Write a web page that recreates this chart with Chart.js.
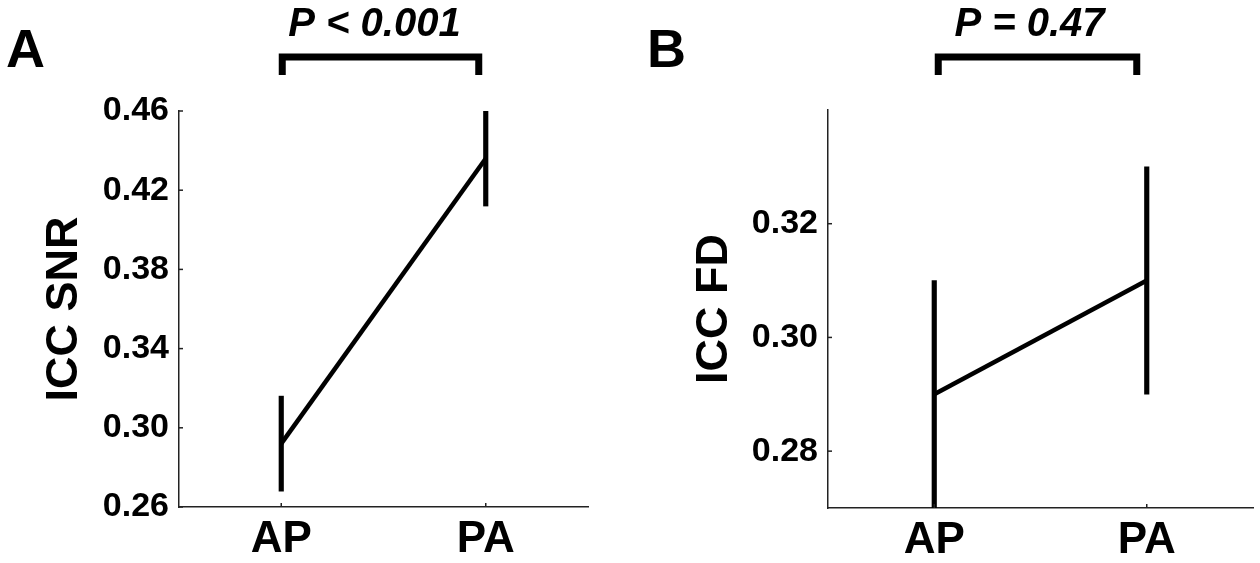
<!DOCTYPE html>
<html>
<head>
<meta charset="utf-8">
<script src="https://cdn.jsdelivr.net/npm/chart.js@4.4.1/dist/chart.umd.min.js"></script>
<style>
  body { margin: 0; background: #fff; }
  #wrap { position: relative; width: 1260px; height: 563px; }
  canvas { position: absolute; top: 0; }
</style>
</head>
<body>
<div id="wrap">
  <canvas id="chartA" width="630" height="563" style="left:0"></canvas>
  <canvas id="chartB" width="630" height="563" style="left:630px"></canvas>
</div>
<script>
const groups = ['AP', 'PA'];

// panel A: ICC SNR
const snrMean = [0.292, 0.436];
const snrLow = [0.268, 0.412];
const snrHigh = [0.316, 0.460];
const snrTicks = [0.26, 0.30, 0.34, 0.38, 0.42, 0.46];

// panel B: ICC FD
const fdMean = [0.290, 0.310];
const fdLow = [0.270, 0.290];
const fdHigh = [0.310, 0.330];
const fdTicks = [0.28, 0.30, 0.32];

const FONT = '"Liberation Sans", Arial, Helvetica, sans-serif';

// inward tick marks, panel letter, significance bracket and P text
const panelDecor = {
  id: 'panelDecor',
  afterDraw(chart, args, opts) {
    const ctx = chart.ctx;
    const x = chart.scales.x, y = chart.scales.y;
    const area = chart.chartArea;
    ctx.save();
    ctx.strokeStyle = '#222';
    ctx.lineWidth = 1.5;
    y.ticks.forEach((t, i) => {
      const py = y.getPixelForTick(i);
      ctx.beginPath();
      ctx.moveTo(area.left, py);
      ctx.lineTo(area.left + 4, py);
      ctx.stroke();
    });
    x.ticks.forEach((t, i) => {
      const px = x.getPixelForTick(i);
      ctx.beginPath();
      ctx.moveTo(px, area.bottom);
      ctx.lineTo(px, area.bottom - 4);
      ctx.stroke();
    });

    ctx.fillStyle = '#000';
    ctx.font = 'bold 54px ' + FONT;
    ctx.textAlign = 'left';
    ctx.textBaseline = 'alphabetic';
    ctx.fillText(opts.letter, opts.letterX, 67);

    const x1 = x.getPixelForValue(0) + opts.legs[0];
    const x2 = x.getPixelForValue(1) - opts.legs[1];
    ctx.strokeStyle = '#000';
    ctx.lineWidth = 7;
    ctx.lineJoin = 'miter';
    ctx.beginPath();
    ctx.moveTo(x1, 75);
    ctx.lineTo(x1, 57);
    ctx.lineTo(x2, 57);
    ctx.lineTo(x2, 75);
    ctx.stroke();

    ctx.font = 'italic bold 40px ' + FONT;
    ctx.textAlign = 'center';
    ctx.fillText(opts.pText, (x1 + x2) / 2 + opts.pShift, 36);
    ctx.restore();
  }
};

function makePanel(id, cfg) {
  return new Chart(document.getElementById(id), {
    data: {
      labels: groups,
      datasets: [
        {
          type: 'bar',
          data: cfg.low.map((v, i) => [v, cfg.high[i]]),
          backgroundColor: '#000',
          barThickness: 4.5,
          order: 2
        },
        {
          type: 'line',
          data: cfg.mean,
          borderColor: '#000',
          borderWidth: 4.5,
          pointRadius: 0,
          fill: false,
          order: 1
        }
      ]
    },
    plugins: [panelDecor],
    options: {
      animation: false,
      responsive: false,
      events: [],
      layout: { padding: { top: cfg.top, right: cfg.right, left: 0, bottom: 0 } },
      plugins: {
        legend: { display: false },
        tooltip: { enabled: false },
        panelDecor: cfg.decor
      },
      scales: {
        x: {
          type: 'category',
          offset: true,
          grid: { display: false, drawTicks: false },
          border: { display: true, color: '#222', width: 1.5 },
          ticks: {
            color: '#000',
            maxRotation: 0,
            padding: 6,
            font: { family: FONT, size: 44, weight: 'bold' }
          },
          afterFit(s) { s.height = cfg.xH; }
        },
        y: {
          type: 'linear',
          min: cfg.min,
          max: cfg.max,
          grid: { display: false, drawTicks: false },
          border: { display: true, color: '#222', width: 1.5 },
          ticks: {
            color: '#000',
            padding: 10,
            font: { family: FONT, size: 34, weight: 'bold' },
            callback: v => v.toFixed(2)
          },
          afterBuildTicks(s) { s.ticks = cfg.ticks.map(v => ({ value: v })); },
          title: {
            display: true,
            text: cfg.title,
            color: '#000',
            font: { family: FONT, size: 45, weight: 'bold' },
            padding: { top: cfg.titlePad, bottom: 0 }
          },
          afterFit(s) { s.width = cfg.yW; }
        }
      }
    }
  });
}

makePanel('chartA', {
  mean: snrMean, low: snrLow, high: snrHigh, ticks: snrTicks,
  min: 0.26, max: 0.46, title: 'ICC SNR',
  top: 111, right: 42, yW: 179, xH: 56, titlePad: 38,
  decor: { letter: 'A', letterX: 6, legs: [1, 7], pText: 'P < 0.001', pShift: -6 }
});

makePanel('chartB', {
  mean: fdMean, low: fdLow, high: fdHigh, ticks: fdTicks,
  min: 0.27, max: 0.34, title: 'ICC FD',
  top: 110, right: 7, yW: 198, xH: 55, titlePad: 58,
  decor: { letter: 'B', letterX: 17, legs: [4, 10], pText: 'P = 0.47', pShift: -8 }
});
</script>
</body>
</html>
